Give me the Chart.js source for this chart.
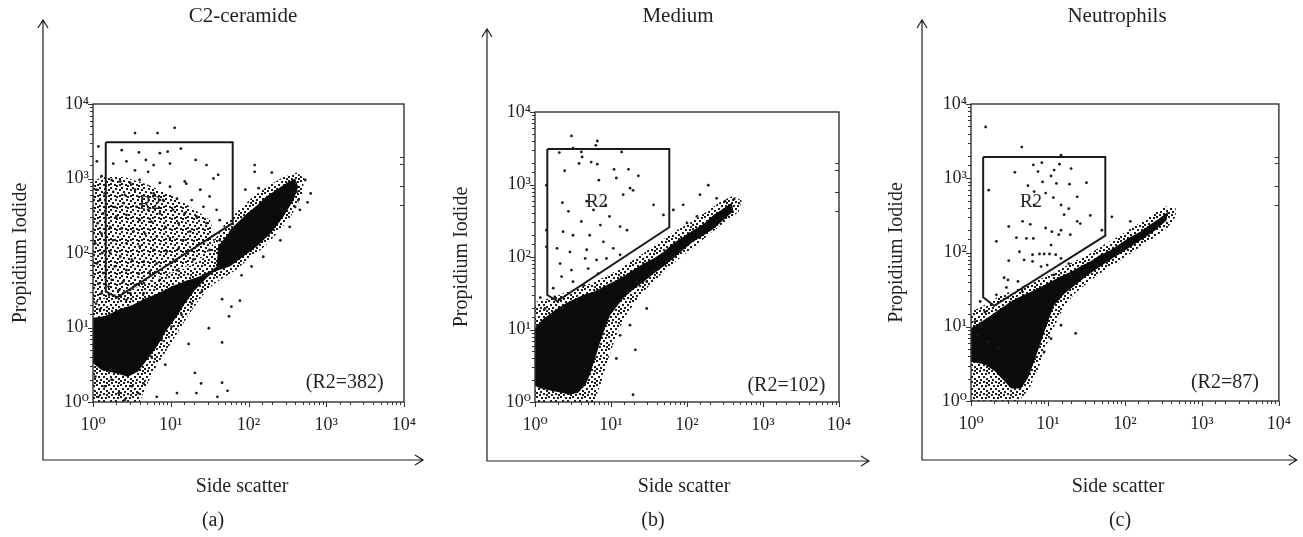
<!DOCTYPE html>
<html lang="en">
<head>
<meta charset="UTF-8">
<title>Propidium iodide vs side scatter</title>
<style>
  body { margin: 0; background: #fff; }
  canvas { position: absolute; top: 0; }
</style>
</head>
<body>
<canvas id="chartA" width="440" height="537" style="left:0"></canvas>
<canvas id="chartB" width="440" height="537" style="left:440px"></canvas>
<canvas id="chartC" width="423" height="537" style="left:880px"></canvas>
<script src="https://cdn.jsdelivr.net/npm/chart.js@4.4.1/dist/chart.umd.min.js"></script>
<script>
// every value below is in decades (log10): [side scatter, propidium iodide]
const titles = ['C2-ceramide', 'Medium', 'Neutrophils'];
const captions = ['(a)', '(b)', '(c)'];
const counts = ['(R2=382)', '(R2=102)', '(R2=87)'];
const decadeLabels = ['10\u2070', '10\u00b9', '10\u00b2', '10\u00b3', '10\u2074'];
const rightTicks = [3.29, 3.20, 2.90, 2.64];

// gate R2 outline
const gateA = [[0.164, 3.486], [1.797, 3.486], [1.797, 2.40], [0.313, 1.405], [0.164, 1.48], [0.164, 3.486]];
const gateB = [[0.162, 3.49], [1.767, 3.49], [1.767, 2.41], [0.293, 1.393], [0.162, 1.476], [0.162, 3.49]];
const gateC = [[0.158, 3.286], [1.745, 3.286], [1.745, 2.226], [0.30, 1.283], [0.158, 1.397], [0.158, 3.286]];

// where the "R2" name and the count sit
const r2Pos = [[0.733, 2.66], [0.816, 2.76], [0.78, 2.676]];
const countPos = [[3.74, 0.255], [3.82, 0.23], [3.74, 0.25]];

// solid (saturated) part of each cloud
const coreA = [[0, 1.13], [0.15, 1.15], [0.33, 1.24], [0.50, 1.30], [0.67, 1.39], [0.84, 1.46], [1.01, 1.55], [1.18, 1.62],
  [1.36, 1.68], [1.53, 1.77], [1.59, 1.82], [1.61, 2.09], [1.74, 2.26], [1.76, 2.31], [1.85, 2.40], [1.98, 2.53],
  [2.11, 2.64], [2.23, 2.76], [2.36, 2.85], [2.49, 2.94], [2.60, 3.00], [2.64, 2.89], [2.58, 2.71], [2.45, 2.49],
  [2.28, 2.26], [2.11, 2.09], [1.93, 1.95], [1.76, 1.82], [1.61, 1.77], [1.53, 1.73], [1.44, 1.64], [1.31, 1.50],
  [1.18, 1.32], [1.08, 1.15], [0.95, 0.97], [0.82, 0.74], [0.69, 0.56], [0.58, 0.41], [0.45, 0.34], [0.28, 0.39],
  [0.11, 0.43], [0, 0.52]];
const coreB = [[0, 1.02], [0.11, 1.15], [0.24, 1.25], [0.37, 1.34], [0.50, 1.41], [0.64, 1.48], [0.77, 1.52], [0.90, 1.59],
  [1.03, 1.66], [1.16, 1.73], [1.29, 1.82], [1.43, 1.91], [1.56, 1.98], [1.69, 2.07], [1.82, 2.19], [1.95, 2.28],
  [2.08, 2.37], [2.22, 2.46], [2.35, 2.58], [2.48, 2.67], [2.59, 2.75], [2.61, 2.63], [2.48, 2.51], [2.35, 2.39],
  [2.22, 2.30], [2.08, 2.21], [1.95, 2.10], [1.82, 1.98], [1.69, 1.87], [1.56, 1.77], [1.43, 1.66], [1.29, 1.55],
  [1.16, 1.43], [1.08, 1.32], [0.99, 1.20], [0.92, 1.02], [0.86, 0.83], [0.79, 0.60], [0.72, 0.37], [0.66, 0.23],
  [0.57, 0.13], [0.46, 0.10], [0.33, 0.13], [0.20, 0.16], [0.07, 0.19], [0, 0.22]];
const coreC = [[0, 0.98], [0.14, 1.07], [0.27, 1.16], [0.39, 1.25], [0.52, 1.34], [0.65, 1.41], [0.78, 1.47], [0.91, 1.54],
  [1.04, 1.61], [1.17, 1.68], [1.30, 1.74], [1.42, 1.81], [1.55, 1.88], [1.68, 1.97], [1.81, 2.03], [1.94, 2.12],
  [2.07, 2.21], [2.20, 2.28], [2.32, 2.37], [2.45, 2.46], [2.56, 2.55], [2.54, 2.43], [2.37, 2.28], [2.20, 2.16],
  [2.02, 2.04], [1.85, 1.93], [1.68, 1.81], [1.51, 1.69], [1.34, 1.55], [1.21, 1.44], [1.08, 1.29], [1.00, 1.07],
  [0.91, 0.80], [0.82, 0.53], [0.74, 0.31], [0.65, 0.17], [0.52, 0.17], [0.44, 0.26], [0.31, 0.40], [0.18, 0.49],
  [0, 0.53]];

// speckled margin around the solid part
const fringeA = [[0, 0], [0.60, 0], [0.68, 0.20], [0.80, 0.45], [0.95, 0.70], [1.10, 0.95], [1.25, 1.20], [1.40, 1.42],
  [1.55, 1.58], [1.70, 1.68], [1.85, 1.78], [2.00, 1.92], [2.20, 2.08], [2.40, 2.30], [2.55, 2.50], [2.68, 2.75],
  [2.72, 3.00], [2.62, 3.08], [2.45, 3.02], [2.25, 2.90], [2.05, 2.75], [1.85, 2.55], [1.70, 2.40], [1.58, 2.20],
  [1.45, 1.95], [1.20, 1.80], [0.90, 1.70], [0.60, 1.55], [0.30, 1.45], [0, 1.35]];
const fringeB = [[0, 0], [0.78, 0], [0.88, 0.30], [0.98, 0.65], [1.08, 0.95], [1.20, 1.20], [1.35, 1.42], [1.50, 1.60],
  [1.70, 1.80], [1.90, 1.98], [2.10, 2.14], [2.30, 2.32], [2.50, 2.48], [2.68, 2.62], [2.72, 2.78], [2.60, 2.84],
  [2.45, 2.77], [2.25, 2.62], [2.05, 2.48], [1.85, 2.36], [1.65, 2.22], [1.45, 2.07], [1.25, 1.93], [1.00, 1.77],
  [0.75, 1.64], [0.50, 1.55], [0.25, 1.45], [0, 1.38]];
const fringeC = [[0, 0], [0.62, 0], [0.75, 0.15], [0.88, 0.45], [0.98, 0.75], [1.08, 1.00], [1.20, 1.25], [1.35, 1.45],
  [1.55, 1.62], [1.75, 1.77], [1.95, 1.90], [2.15, 2.04], [2.35, 2.18], [2.55, 2.33], [2.66, 2.48], [2.66, 2.60],
  [2.52, 2.62], [2.32, 2.48], [2.12, 2.35], [1.92, 2.22], [1.72, 2.10], [1.52, 1.97], [1.32, 1.87], [1.10, 1.74],
  [0.85, 1.62], [0.60, 1.52], [0.35, 1.40], [0.15, 1.28], [0, 1.20]];

// thinner haze of dead cells in the C2-ceramide gate
const cloudA = [[0, 1.35], [0.30, 1.45], [0.60, 1.55], [0.90, 1.70], [1.20, 1.82], [1.45, 1.97], [1.58, 2.20], [1.50, 2.45],
  [1.25, 2.62], [1.00, 2.78], [0.70, 2.92], [0.40, 3.02], [0.10, 3.02], [0, 2.95]];

// single events
const dotsA = [[0.54, 3.61], [0.83, 3.61], [1.05, 3.68], [0.07, 3.43], [0.37, 3.38], [0.59, 3.35], [0.86, 3.34], [0.96, 3.36],
  [1.13, 3.40], [1.32, 3.25], [0.43, 3.23], [0.68, 3.25], [0.78, 3.18], [0.99, 3.20], [1.46, 3.18], [0.26, 3.20],
  [0.54, 3.11], [0.71, 3.09], [1.18, 2.96], [1.20, 2.93], [1.55, 3.00], [1.61, 3.05], [0.24, 2.98], [0.35, 2.96],
  [0.48, 2.94], [0.60, 2.98], [0.86, 2.94], [0.99, 2.89], [1.38, 2.85], [1.50, 2.76], [1.59, 2.58], [0.15, 2.80],
  [0.26, 2.82], [0.41, 2.78], [0.54, 2.85], [0.78, 2.80], [0.90, 2.71], [1.08, 2.73], [1.27, 2.71], [1.42, 2.62],
  [1.63, 2.44], [0.26, 2.62], [0.39, 2.67], [0.56, 2.62], [0.71, 2.58], [0.86, 2.53], [1.03, 2.58], [1.18, 2.53],
  [1.33, 2.49], [1.46, 2.40], [0.30, 2.49], [0.43, 2.51], [0.60, 2.44], [0.75, 2.42], [0.93, 2.35], [1.10, 2.40],
  [1.25, 2.29], [0.22, 2.35], [0.37, 2.33], [0.52, 2.29], [0.67, 2.26], [0.82, 2.22], [0.99, 2.20], [1.16, 2.17],
  [0.26, 2.17], [0.43, 2.13], [0.60, 2.09], [0.78, 2.04], [0.95, 2.02], [1.10, 2.06], [0.22, 2.00], [0.35, 1.95],
  [0.50, 1.91], [0.65, 1.88], [0.82, 1.86], [0.28, 1.82], [0.43, 1.77], [0.58, 1.73], [0.73, 1.75], [0.24, 1.64],
  [0.39, 1.62], [0.54, 1.57], [0.33, 1.50], [0.48, 1.46], [0.20, 1.55],
  [0.05, 3.23], [0.11, 3.03], [0.04, 2.85], [0.09, 2.71], [0.13, 2.53], [0.06, 2.40], [0.11, 2.26], [0.03, 2.13],
  [0.12, 2.00], [0.05, 1.86], [0.13, 1.73], [0.07, 1.59], [0.11, 1.46], [0.04, 1.32], [0.09, 1.24],
  [0.65, 1.46], [0.86, 1.64], [1.08, 1.77], [1.29, 1.91], [1.50, 2.04], [1.63, 2.17], [0.43, 1.37],
  [1.66, 1.38], [1.89, 1.36], [1.78, 1.28], [1.75, 1.15], [1.49, 0.99], [1.66, 0.80], [1.23, 0.78], [1.31, 0.39],
  [1.39, 0.25], [1.66, 0.26], [1.73, 0.15], [1.60, 0.07], [1.08, 0.12], [0.82, 0.07], [1.33, 0.12], [0.93, 0.50],
  [2.08, 3.18], [2.08, 3.09], [2.30, 3.08], [1.96, 2.85], [2.13, 2.87], [2.62, 2.82], [2.64, 2.71], [2.60, 2.62],
  [1.91, 1.70], [2.04, 1.82], [2.19, 1.95], [2.41, 2.17], [2.53, 2.35], [2.66, 2.58], [2.73, 2.98], [2.76, 2.68],
  [2.80, 2.80],
  [0.75, 0.61], [0.88, 0.83], [1.01, 1.01], [1.14, 1.17], [1.27, 1.32], [1.40, 1.48],
  [0.03, 0.34], [0.15, 0.21], [0.33, 0.12], [0.50, 0.21], [0.07, 0.07], [0.24, 0.30], [0.41, 0.03], [0.58, 0.12],
  [0.65, 0.25]];
const dotsB = [[0.48, 3.67], [0.82, 3.60], [0.80, 3.54], [0.50, 3.50], [0.61, 3.45], [0.32, 3.44], [0.62, 3.38], [0.74, 3.31],
  [0.82, 3.28], [0.58, 3.29], [0.39, 3.19], [1.04, 3.21], [1.23, 3.21], [1.36, 3.12], [0.84, 3.06], [1.07, 3.09],
  [1.25, 2.95], [1.29, 2.92], [1.16, 2.86], [0.36, 2.75], [0.68, 2.77], [0.93, 2.72], [0.98, 2.56], [0.77, 2.65],
  [0.44, 2.63], [0.61, 2.49], [0.86, 2.44], [1.12, 2.42], [1.21, 2.37], [0.37, 2.35], [0.50, 2.30], [0.72, 2.30],
  [0.90, 2.21], [1.03, 2.12], [0.68, 2.10], [0.46, 2.07], [0.33, 1.91], [0.29, 2.12], [0.66, 1.98], [0.81, 1.96],
  [0.94, 1.98], [1.12, 2.03], [0.48, 1.82], [0.70, 1.84], [0.83, 1.77], [0.35, 1.73], [0.50, 1.66], [0.64, 1.61],
  [0.24, 1.57], [1.69, 2.58], [1.56, 2.72], [0.15, 2.99], [0.15, 2.37], [0.15, 2.14], [1.14, 3.45], [2.28, 2.99],
  [2.17, 2.86], [1.95, 2.72], [1.82, 2.65],
  [1.32, 0.72], [1.29, 0.10], [1.12, 0.92], [1.25, 1.06], [1.47, 1.29], [1.07, 0.60],
  [1.34, 1.66], [1.56, 1.80], [1.73, 1.94], [1.47, 1.66], [1.21, 1.52],
  [0.07, 1.44], [0.13, 1.29], [0.37, 1.31], [0.26, 1.45],
  [2.39, 2.81], [2.50, 2.77], [2.13, 2.56], [2.00, 2.47], [2.62, 2.80]];
const dotsC = [[0.19, 3.69], [0.66, 3.42], [1.17, 3.31], [0.81, 3.18], [0.92, 3.21], [1.04, 3.03], [1.08, 3.11], [1.15, 3.19],
  [1.30, 3.13], [0.57, 3.08], [0.87, 3.09], [0.93, 2.95], [1.11, 2.93], [1.28, 2.92], [1.50, 2.94], [0.23, 2.84],
  [0.74, 2.90], [0.82, 2.82], [0.97, 2.80], [1.07, 2.74], [1.38, 2.75], [1.17, 2.64], [1.27, 2.59], [0.82, 2.64],
  [0.67, 2.42], [0.77, 2.38], [1.21, 2.51], [1.38, 2.42], [1.42, 2.39], [1.55, 2.50], [1.70, 2.30], [1.83, 2.48],
  [0.49, 2.35], [0.97, 2.33], [1.05, 2.28], [1.17, 2.30], [1.29, 2.24], [0.33, 2.15], [0.59, 2.20], [0.72, 2.19],
  [0.81, 2.19], [1.04, 2.10], [1.14, 2.24], [0.63, 2.01], [0.80, 1.97], [0.89, 1.98], [0.95, 1.98], [1.02, 1.98],
  [1.10, 1.97], [1.17, 1.92], [0.69, 1.90], [0.80, 1.88], [0.49, 1.89], [0.91, 1.81], [0.99, 1.83], [1.08, 1.70],
  [0.43, 1.66], [0.48, 1.63], [0.61, 1.61], [0.46, 1.53], [0.67, 1.47], [0.33, 1.43], [1.29, 1.70], [1.27, 1.85],
  [0.12, 1.34], [0.18, 1.20], [0.05, 1.07], [0.09, 0.89], [0.22, 0.80], [0.35, 0.71],
  [2.07, 2.42], [1.36, 0.91], [1.17, 1.02], [1.04, 0.84], [0.95, 0.66]];

const panels = [
  {gate: gateA, core: coreA, fringe: fringeA, cloud: cloudA, dots: dotsA},
  {gate: gateB, core: coreB, fringe: fringeB, cloud: [], dots: dotsB},
  {gate: gateC, core: coreC, fringe: fringeC, cloud: [], dots: dotsC}
];

// canvas layout of the three figure parts (pixels inside each canvas)
const layouts = [
  {id: 'chartA', padR: 36, padT: 104, yw: 93, yTitlePad: 9, xh: 135, titleX: 243, sideX: 242, capX: 213,
    arrow: {dx: 50, up: 84, down: 58, right: 19}},
  {id: 'chartB', padR: 41, padT: 112, yw: 95, yTitlePad: 10, xh: 135, titleX: 238, sideX: 244, capX: 213,
    arrow: {dx: 48, up: 83, down: 59, right: 30}},
  {id: 'chartC', padR: 21, padT: 104, yw: 91, yTitlePad: 5, xh: 136, titleX: 237, sideX: 238, capX: 240,
    arrow: {dx: 49, up: 84, down: 59, right: 18}}
];

const ink = '#231f20';
const serif = '"Liberation Serif", "DejaVu Serif", serif';
Chart.defaults.font.family = serif;
Chart.defaults.color = ink;

// stipple fills that stand for the speckled, not quite saturated regions
function stipple(size, cells) {
  const c = document.createElement('canvas');
  c.width = c.height = size;
  const g = c.getContext('2d');
  g.fillStyle = '#1c1c1c';
  cells.forEach(([x, y]) => g.fillRect(x, y, 2, 2));
  return g.createPattern(c, 'repeat');
}
const fringeFill = stipple(12, [[0, 0], [5, 1], [9, 1], [2, 4], [7, 4], [10, 6], [4, 7], [0, 8], [7, 9], [3, 10], [10, 10]]);
const cloudFill = stipple(11, [[0, 0], [5, 1], [9, 2], [2, 4], [7, 5], [0, 7], [4, 8], [9, 8], [6, 9]]);

const pts = list => list.map(([lx, ly]) => ({x: 10 ** lx, y: 10 ** ly}));
const isDecade = v => Math.abs(Math.log10(v) - Math.round(Math.log10(v))) < 1e-9;
const decadeLabel = v => isDecade(v) ? decadeLabels[Math.round(Math.log10(v))] : '';

const frame = {
  id: 'frame',
  afterDraw(chart, args, opts) {
    const {ctx, chartArea: a, scales: {x, y}} = chart;
    const g = opts.layout;
    const i = opts.index;
    ctx.save();
    ctx.strokeStyle = '#333';
    ctx.lineWidth = 1.4;
    ctx.strokeRect(a.left, a.top, a.right - a.left, a.bottom - a.top);

    // decade and minor tick marks
    ctx.lineWidth = 1;
    ctx.beginPath();
    x.ticks.forEach(t => {
      const px = Math.round(x.getPixelForValue(t.value)) + 0.5;
      ctx.moveTo(px, a.bottom);
      ctx.lineTo(px, a.bottom + (isDecade(t.value) ? 5 : 3));
    });
    y.ticks.forEach(t => {
      const py = Math.round(y.getPixelForValue(t.value)) + 0.5;
      ctx.moveTo(a.left, py);
      ctx.lineTo(a.left - (isDecade(t.value) ? 5 : 3), py);
    });
    rightTicks.forEach(v => {
      const py = Math.round(y.getPixelForValue(10 ** v)) + 0.5;
      ctx.moveTo(a.right, py);
      ctx.lineTo(a.right - 4, py);
    });
    ctx.stroke();

    // open arrows of the outer axes
    const ax = a.left - g.arrow.dx, ay = a.bottom + g.arrow.down;
    const top = a.top - g.arrow.up, end = a.right + g.arrow.right;
    ctx.strokeStyle = ink;
    ctx.lineWidth = 1.2;
    ctx.beginPath();
    ctx.moveTo(ax, top);
    ctx.lineTo(ax, ay);
    ctx.lineTo(end, ay);
    ctx.moveTo(ax - 5, top + 8);
    ctx.lineTo(ax, top);
    ctx.lineTo(ax + 5, top + 8);
    ctx.moveTo(end - 8, ay - 5);
    ctx.lineTo(end, ay);
    ctx.lineTo(end - 8, ay + 5);
    ctx.stroke();

    // panel title, x-axis name and caption
    ctx.fillStyle = ink;
    ctx.textBaseline = 'middle';
    ctx.textAlign = 'center';
    ctx.font = '21px ' + serif;
    ctx.fillText(titles[i], g.titleX, 16.5);
    ctx.font = '20px ' + serif;
    ctx.fillText('Side scatter', g.sideX, 487);
    ctx.fillText(captions[i], g.capX, 521);

    // gate name and event count
    ctx.font = '19px ' + serif;
    ctx.fillText('R2', x.getPixelForValue(10 ** r2Pos[i][0]), y.getPixelForValue(10 ** r2Pos[i][1]));
    ctx.font = '20px ' + serif;
    ctx.textAlign = 'right';
    ctx.fillText(counts[i], x.getPixelForValue(10 ** countPos[i][0]), y.getPixelForValue(10 ** countPos[i][1]));
    ctx.restore();
  }
};

layouts.forEach((g, i) => {
  const p = panels[i];
  const area = (data, color, order) => ({
    type: 'line', data: pts(data), fill: 'shape', backgroundColor: color,
    borderWidth: 0, pointRadius: 0, tension: 0, order
  });
  new Chart(document.getElementById(g.id), {
    type: 'scatter',
    data: {
      datasets: [
        {type: 'line', data: pts(p.gate), fill: false, borderColor: '#1b1b1b', borderWidth: 2,
          pointRadius: 0, tension: 0, order: 0},
        {data: pts(p.dots), pointRadius: 1.4, backgroundColor: '#1c1c1c', borderWidth: 0, order: 1},
        area(p.core, '#0b0b0b', 2),
        area(p.fringe, fringeFill, 3),
        area(p.cloud, cloudFill, 4)
      ]
    },
    options: {
      responsive: false,
      animation: false,
      events: [],
      layout: {padding: {left: 0, right: g.padR, top: g.padT, bottom: 0}},
      plugins: {
        legend: {display: false},
        tooltip: {enabled: false},
        frame: {layout: g, index: i}
      },
      scales: {
        x: {
          type: 'logarithmic', min: 1, max: 10000, position: 'bottom',
          grid: {display: false, drawTicks: false}, border: {display: false},
          ticks: {autoSkip: false, maxRotation: 0, minRotation: 0, padding: 12,
            font: {size: 18}, color: ink, callback: decadeLabel},
          afterFit: s => { s.height = g.xh; }
        },
        y: {
          type: 'logarithmic', min: 1, max: 10000, position: 'left',
          grid: {display: false, drawTicks: false}, border: {display: false},
          ticks: {autoSkip: false, padding: 4, font: {size: 18}, color: ink, callback: decadeLabel},
          title: {display: true, text: 'Propidium Iodide', color: ink, font: {size: 20},
            padding: {top: g.yTitlePad, bottom: 0}},
          afterFit: s => { s.width = g.yw; }
        }
      }
    },
    plugins: [frame]
  });
});
</script>
</body>
</html>
